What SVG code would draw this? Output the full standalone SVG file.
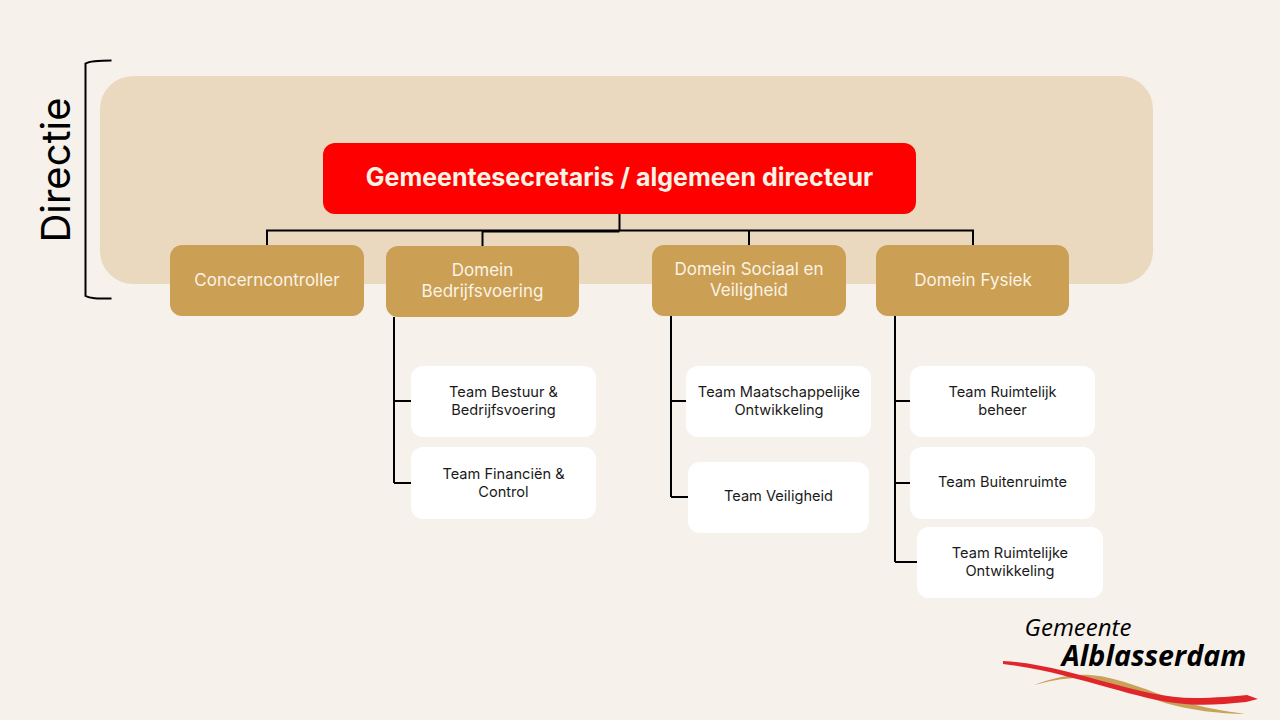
<svg xmlns="http://www.w3.org/2000/svg" width="1280" height="720" viewBox="0 0 1280 720">
<style>
text{font-family:"Inter","Liberation Sans",sans-serif;text-anchor:middle}
.dom rect{fill:#cb9f54}
.dom text{fill:#fbf3e6;font-size:17px}
.team rect{fill:#fff}
.team text{fill:#1a1a1a;font-size:14.600px}
.ln{fill:none;stroke:#000;stroke-width:2}
</style>
<rect width="1280" height="720" fill="#f6f1eb"/>
<rect x="100" y="76" width="1053" height="208" rx="33" fill="#ead9be"/>
<path class="ln" d="M111.500 60.500C97 60.500 90 61 85.500 63.500V296C90 298.500 97 298.500 111.500 298.500"/>
<text transform="translate(70 170) rotate(-90)" font-size="40" fill="#000">Directie</text>
<g id="connectors" class="ln">
<path d="M619.500 213V230.500M267 245V230.500H619.500M482.500 246V231.500H619.500M619.500 230.500H973V245M749 230.500V245"/>
<path d="M394 317V483M394 401H411M394 483H411"/>
<path d="M671 316V497M671 401H686M671 497H688"/>
<path d="M895 316V562M895 401H910M895 483H910M895 562H917"/>
</g>
<g id="root"><rect x="323" y="143" width="593" height="71" rx="12" fill="#fe0000"/><text x="619.500" y="186" font-size="25" font-weight="700" fill="#fbf3e6">Gemeentesecretaris / algemeen directeur</text></g>
<g id="concerncontroller" class="dom"><rect x="170" y="245" width="194" height="71" rx="12"/><text x="267" y="286">Concerncontroller</text></g>
<g id="bedrijfsvoering" class="dom"><rect x="386" y="246" width="193" height="71" rx="12"/><text x="482.500" y="276">Domein</text><text x="482.500" y="297">Bedrijfsvoering</text></g>
<g id="sociaal" class="dom"><rect x="652" y="245" width="194" height="71" rx="12"/><text x="749" y="275">Domein Sociaal en</text><text x="749" y="296">Veiligheid</text></g>
<g id="fysiek" class="dom"><rect x="876" y="245" width="193" height="71" rx="12"/><text x="973" y="286">Domein Fysiek</text></g>
<g id="team-bestuur" class="team"><rect x="411" y="366" width="185" height="71" rx="12"/><text x="503.500" y="396.500">Team Bestuur &amp;</text><text x="503.500" y="414.500">Bedrijfsvoering</text></g>
<g id="team-financien" class="team"><rect x="411" y="447" width="185" height="72" rx="12"/><text x="503.500" y="478.500">Team Financiën &amp;</text><text x="503.500" y="496.500">Control</text></g>
<g id="team-maatschappelijk" class="team"><rect x="686" y="366" width="185" height="71" rx="12"/><text x="779" y="396.500">Team Maatschappelijke</text><text x="779" y="414.500">Ontwikkeling</text></g>
<g id="team-veiligheid" class="team"><rect x="688" y="462" width="181" height="71" rx="12"/><text x="778.500" y="501">Team Veiligheid</text></g>
<g id="team-ruimtelijk-beheer" class="team"><rect x="910" y="366" width="185" height="71" rx="12"/><text x="1002.500" y="396.500">Team Ruimtelijk</text><text x="1002.500" y="414.500">beheer</text></g>
<g id="team-buitenruimte" class="team"><rect x="910" y="447" width="185" height="72" rx="12"/><text x="1002.500" y="487">Team Buitenruimte</text></g>
<g id="team-ruimtelijke-ontwikkeling" class="team"><rect x="917" y="527" width="186" height="71" rx="12"/><text x="1010" y="557.500">Team Ruimtelijke</text><text x="1010" y="575.500">Ontwikkeling</text></g>
<g id="logo">
<path d="M1034 685C1052 678 1072 674 1090 675C1120 677 1150 692 1180 701C1205 708 1225 711 1245 714C1220 714 1190 710 1165 703C1140 695 1115 683 1090 679C1070 676 1052 681 1034 685Z" fill="#c9a25a"/>
<path d="M1003 661C1040 663 1075 674 1110 683C1140 691 1165 698 1195 698C1215 698 1235 696 1247 695L1258 699L1246 702C1225 704 1205 706 1185 704C1160 702 1135 695 1110 688C1075 678 1040 668 1003 664Z" fill="#e0262b"/>
<text x="1078" y="636" font-size="24" font-style="italic" fill="#000" style="font-family:'Open Sans','Liberation Sans',sans-serif">Gemeente</text>
<text x="1154" y="666" font-size="28.700" font-style="italic" font-weight="700" fill="#000" style="font-family:'Open Sans','Liberation Sans',sans-serif">Alblasserdam</text>
</g>
</svg>
